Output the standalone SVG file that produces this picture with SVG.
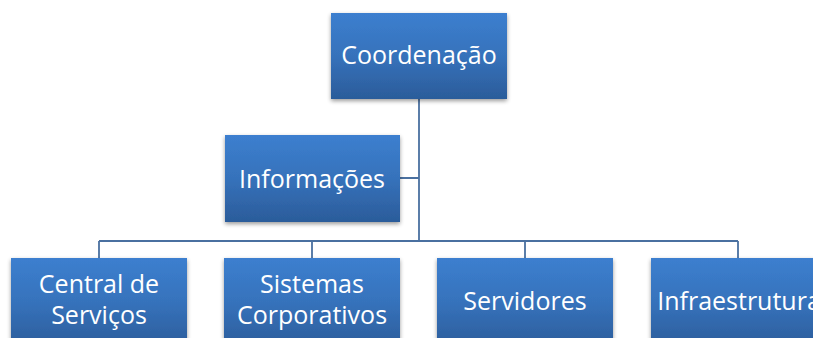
<svg xmlns="http://www.w3.org/2000/svg" width="813" height="338" viewBox="0 0 813 338">
<defs>
<linearGradient id="g" x1="0" y1="0" x2="0" y2="1">
<stop offset="0" stop-color="#3c7fcf"/>
<stop offset="0.5" stop-color="#3672bb"/>
<stop offset="1" stop-color="#2b5c9a"/>
</linearGradient>
<filter id="sh" x="-10%" y="-10%" width="120%" height="130%">
<feGaussianBlur in="SourceAlpha" stdDeviation="2"/>
<feOffset dy="2"/>
<feComponentTransfer><feFuncA type="linear" slope="0.4"/></feComponentTransfer>
<feMerge><feMergeNode/><feMergeNode in="SourceGraphic"/></feMerge>
</filter>
</defs>
<style>
.box{fill:url(#g);filter:url(#sh)}
.t{fill:#ffffff;font-family:"Open Sans","Liberation Sans",sans-serif;font-size:25px;text-anchor:middle}
.c{fill:none;stroke:#4a70a0;stroke-width:1.8}
</style>
<rect width="813" height="338" fill="#ffffff"/>
<g id="connectors">
<path class="c" d="M419 99 V241 M400 178 H419 M99 241 H738 M99 241 V258 M312 241 V258 M525 241 V258 M738 241 V258"/>
</g>
<g id="coordenacao">
<rect class="box" x="331" y="13" width="176" height="86"/>
<text class="t" x="419" y="64">Coordenação</text>
</g>
<g id="informacoes">
<rect class="box" x="225" y="135" width="175" height="87"/>
<text class="t" x="312" y="188">Informações</text>
</g>
<g id="central">
<rect class="box" x="11" y="258" width="176" height="90"/>
<text class="t" x="99" y="293">Central de</text>
<text class="t" x="99" y="324">Serviços</text>
</g>
<g id="sistemas">
<rect class="box" x="224" y="258" width="176" height="90"/>
<text class="t" x="312" y="293">Sistemas</text>
<text class="t" x="312" y="324">Corporativos</text>
</g>
<g id="servidores">
<rect class="box" x="437" y="258" width="176" height="90"/>
<text class="t" x="525" y="310">Servidores</text>
</g>
<g id="infraestrutura">
<rect class="box" x="651" y="258" width="176" height="90"/>
<text class="t" x="739" y="310">Infraestrutura</text>
</g>
</svg>
